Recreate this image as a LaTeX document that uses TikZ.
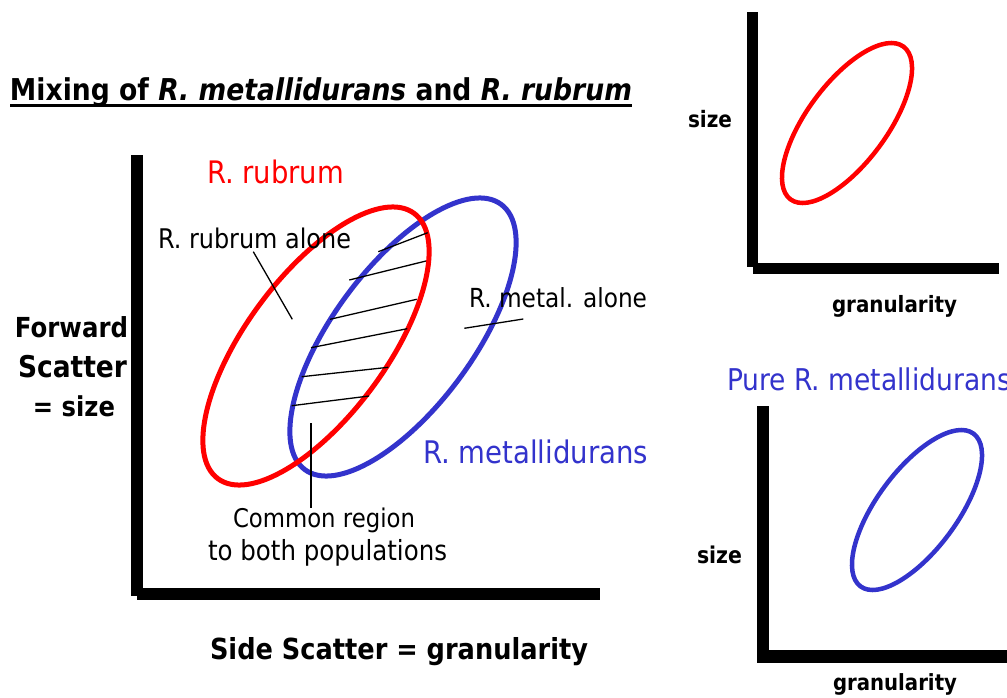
\documentclass[tikz,border=0pt]{standalone}
\usepackage{fontspec}
\setmainfont{DejaVu Sans}
\usepackage{graphicx}
\definecolor{rred}{RGB}{255,0,0}
\definecolor{rblue}{RGB}{51,51,204}
\newcommand\fitw[2]{\scalebox{1}[1.13]{\resizebox{#1pt}{!}{#2}}}
\begin{document}
\begin{tikzpicture}[x=1pt,y=-1pt,
  lbl/.style={anchor=base west, inner sep=0pt, outer sep=0pt},
  bar/.style={fill=black, draw=none},
  bigell/.style={line width=5pt},
  smallell/.style={line width=4.5pt},
  hatchline/.style={line width=1.3pt, black},
  pointer/.style={line width=1.3pt, black}]
\useasboundingbox (0,0) rectangle (1007,698);
\fill[white] (0,0) rectangle (1007,698);

% title
\node[lbl] (title) at (10,101) {\fitw{622}{\bfseries Mixing of \textit{R. metallidurans} and \textit{R. rubrum}}};
\draw[line width=3pt] ([yshift=-4.5pt]title.base west) -- ([yshift=-4.5pt]title.base east);

% main axes
\fill[bar] (131,155) rectangle (143,596);
\fill[bar] (137,588) rectangle (600,600);

% small axes top
\fill[bar] (747,12) rectangle (758,267);
\fill[bar] (753,263) rectangle (999,274);

% small axes bottom
\fill[bar] (757,406) rectangle (769,663);
\fill[bar] (763,650) rectangle (1007,663);

% main ellipses
\begin{scope}[shift={(403,337)}, rotate=53.5]
  \draw[rblue, bigell] (0,0) ellipse [x radius=165pt, y radius=70pt];
\end{scope}
\begin{scope}[shift={(316,346)}, rotate=53.5]
  \draw[rred, bigell] (0,0) ellipse [x radius=165pt, y radius=70pt];
\end{scope}

% small ellipses
\begin{scope}[shift={(847,123)}, rotate=53.5]
  \draw[rred, smallell] (0,0) ellipse [x radius=95pt, y radius=40pt];
\end{scope}
\begin{scope}[shift={(917,510)}, rotate=53.5]
  \draw[rblue, smallell] (0,0) ellipse [x radius=95pt, y radius=40pt];
\end{scope}

% hatch lines
\coordinate (h1a) at (378.3,251.7); \coordinate (h1b) at (427.7,232.7);
\coordinate (h2a) at (349.3,280);   \coordinate (h2b) at (426,261);
\coordinate (h3a) at (330,319.3);   \coordinate (h3b) at (416.7,299.3);
\coordinate (h4a) at (311,347.7);   \coordinate (h4b) at (407.3,328.7);
\coordinate (h5a) at (301.7,376.7); \coordinate (h5b) at (388.3,367.3);
\coordinate (h6a) at (291.7,405.7); \coordinate (h6b) at (369,396);
\foreach \i in {1,...,6} { \draw[hatchline] (h\i a) -- (h\i b); }

% labels
\node[lbl, text=rred] (rrub) at (207,184) {\fitw{137}{R. rubrum}};
\node[lbl] (rrubalone) at (158,248) {\fitw{193}{R. rubrum alone}};
\node[lbl] (rmetalone) at (469,307) {\fitw{178}{R. metal. alone}};
\node[lbl, text=rblue] (rmet) at (423,463) {\fitw{225}{R. metallidurans}};
\node[lbl] (common1) at (233,527) {\fitw{182}{Common region}};
\node[lbl] (common2) at (208,560) {\fitw{239}{to both populations}};

% pointers
\coordinate (p1a) at (253.3,251.7); \coordinate (p1b) at (292.3,319.3);
\draw[pointer] (p1a) -- (p1b);
\coordinate (p2a) at (311,423); \coordinate (p2b) at (311,508);
\draw[pointer] (p2a) -- (p2b);
\coordinate (p3a) at (464.3,328.3); \coordinate (p3b) at (523.3,319);
\draw[pointer] (p3a) -- (p3b);

% axis labels
\node[lbl] (fw) at (15,337) {\fitw{113}{\bfseries Forward}};
\node[lbl] (sc) at (18,377) {\fitw{109}{\bfseries Scatter}};
\node[lbl] (eqs) at (33,416) {\fitw{82}{\bfseries = size}};
\node[lbl] (side) at (210,659) {\fitw{378}{\bfseries Side Scatter = granularity}};

\node[lbl] (size1) at (688,128) {\fitw{44}{\bfseries size}};
\node[lbl] (gran1) at (832,312) {\fitw{125}{\bfseries granularity}};
\node[lbl, text=rblue] (pure) at (727,390) {\fitw{284}{Pure R. metallidurans}};
\node[lbl] (size2) at (697,563) {\fitw{45}{\bfseries size}};
\node[lbl] (gran2) at (833,690) {\fitw{124}{\bfseries granularity}};
\end{tikzpicture}
\end{document}
